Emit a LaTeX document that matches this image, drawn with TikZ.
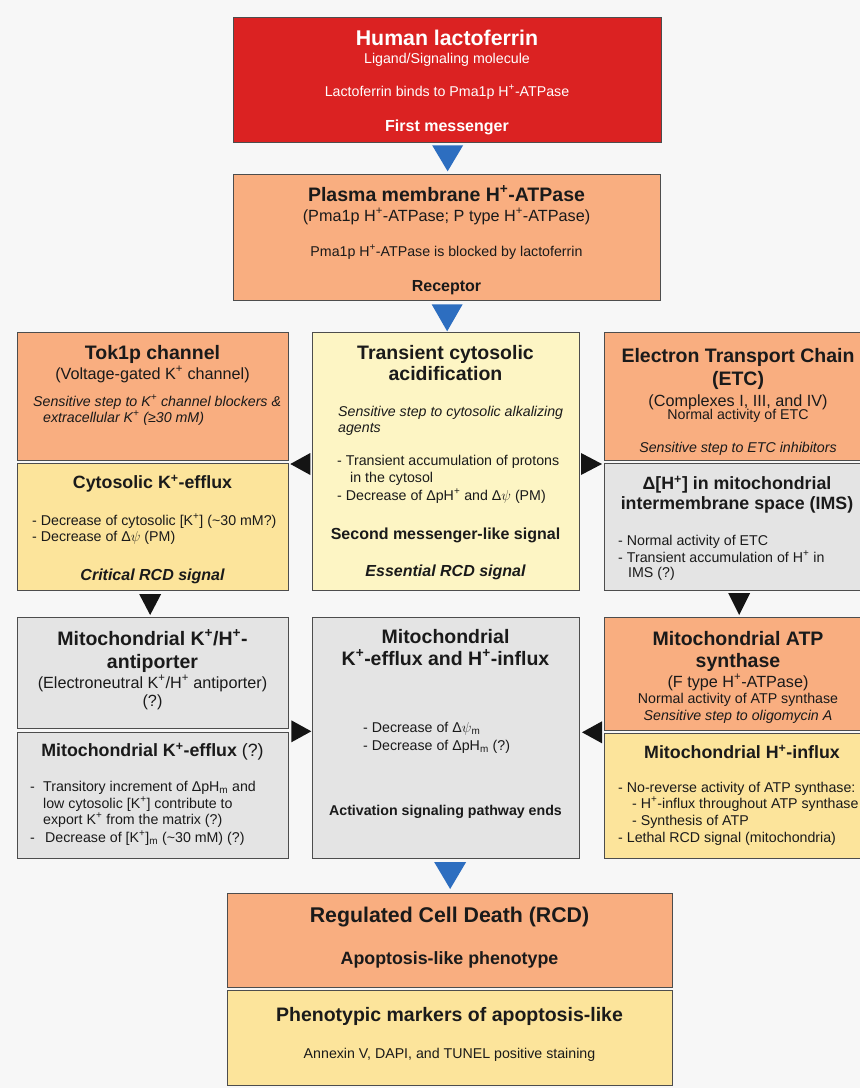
\documentclass[tikz,border=0pt]{standalone}
\usepackage{fontspec}
\setmainfont{Liberation Sans}
\usepackage{tikz}
\usetikzlibrary{calc}
\usepackage{xcolor}
\definecolor{bgcol}{HTML}{F7F7F7}
\definecolor{edgecol}{HTML}{4D4D4D}
\definecolor{txtcol}{HTML}{1A1A1A}
\definecolor{redcol}{HTML}{DB2222}
\definecolor{salmoncol}{HTML}{F9AE80}
\definecolor{yellowcol}{HTML}{FCE49B}
\definecolor{palecol}{HTML}{FDF5C4}
\definecolor{graycol}{HTML}{E4E4E4}
\definecolor{bluecol}{HTML}{2D6EC0}
\tikzstyle{box}=[draw=edgecol,line width=1.3pt,anchor=north west,inner sep=0pt]
\tikzstyle{txt}=[inner sep=0pt,anchor=base,text=txtcol]
\tikzstyle{big}=[txt,font=\fontsize{21.3}{24}\selectfont\bfseries]
\tikzstyle{ttl}=[txt,font=\fontsize{19.5}{22}\selectfont\bfseries]
\tikzstyle{sub}=[txt,font=\fontsize{17.8}{20}\selectfont\bfseries]
\tikzstyle{paren}=[txt,font=\fontsize{16.2}{18}\selectfont]
\tikzstyle{lbl}=[txt,font=\fontsize{16}{18}\selectfont\bfseries]
\tikzstyle{body}=[txt,font=\fontsize{14.2}{16}\selectfont]
\tikzstyle{item}=[body,anchor=base west]
\tikzstyle{bluetri}=[fill=bluecol]
\tikzstyle{blacktri}=[fill=black!92]

\begin{document}
\begin{tikzpicture}[x=1pt,y=-1pt]
  \useasboundingbox (0,0) rectangle (860,1088);
  \clip (0,0) rectangle (860,1088);
  \fill[bgcol] (0,0) rectangle (860,1088);

  % boxes
  \node[box,fill=redcol,minimum width=428,minimum height=125] (lacto) at (233,17) {};
  \node[box,fill=salmoncol,minimum width=427,minimum height=126] (pma) at (233,174) {};
  \node[box,fill=salmoncol,minimum width=271,minimum height=128] (tok) at (17,332) {};
  \node[box,fill=yellowcol,minimum width=271,minimum height=127] (kefflux) at (17,463) {};
  \node[box,fill=palecol,minimum width=267,minimum height=258] (acid) at (312,332) {};
  \node[box,fill=salmoncol,minimum width=271,minimum height=128] (etc) at (604,332) {};
  \node[box,fill=graycol,minimum width=271,minimum height=127] (ims) at (604,463) {};
  \node[box,fill=graycol,minimum width=271,minimum height=111] (anti) at (17,617) {};
  \node[box,fill=graycol,minimum width=271,minimum height=126] (mkefflux) at (17,732) {};
  \node[box,fill=graycol,minimum width=267,minimum height=241] (mito) at (312,617) {};
  \node[box,fill=salmoncol,minimum width=271,minimum height=113] (atp) at (604,617) {};
  \node[box,fill=yellowcol,minimum width=271,minimum height=125] (hinflux) at (604,733) {};
  \node[box,fill=salmoncol,minimum width=445,minimum height=94] (rcd) at (227,893) {};
  \node[box,fill=yellowcol,minimum width=445,minimum height=95] (markers) at (227,990) {};

  % first messenger
  \node[big,text=white] (lacto-1) at (447,45.7) {Human lactoferrin};
  \node[body,text=white] (lacto-2) at (447,63) {Ligand/Signaling molecule};
  \node[body,text=white] (lacto-3) at (447,96) {Lactoferrin binds to Pma1p H\textsuperscript{+}-ATPase};
  \node[lbl,text=white] (lacto-4) at (447,131.8) {First messenger};

  \node[ttl] (pma-1) at (446.5,201) {Plasma membrane H\textsuperscript{+}-ATPase};
  \node[paren] (pma-2) at (446.5,221) {(Pma1p H\textsuperscript{+}-ATPase; P type H\textsuperscript{+}-ATPase)};
  \node[body] (pma-3) at (446.5,256) {Pma1p H\textsuperscript{+}-ATPase is blocked by lactoferrin};
  \node[lbl] (pma-4) at (446.5,291) {Receptor};

  % left column
  \node[ttl] (tok-1) at (152.5,359) {Tok1p channel};
  \node[paren] (tok-2) at (152.5,379) {(Voltage-gated K\textsuperscript{+} channel)};
  \node[item] (tok-3) at (33,406) {\itshape Sensitive step to K\textsuperscript{+} channel blockers \&};
  \node[item] (tok-4) at (43,422) {\itshape extracellular K\textsuperscript{+} (≥30 mM)};

  \node[sub] (kefflux-1) at (152.5,488.5) {Cytosolic K\textsuperscript{+}-efflux};
  \node[item] (kefflux-2) at (32,525) {- Decrease of cytosolic [K\textsuperscript{+}] (\textasciitilde30 mM?)};
  \node[item] (kefflux-3) at (32,541) {- Decrease of Δ$\psi$\ (PM)};
  \node[lbl] (kefflux-4) at (152.5,580) {\itshape Critical RCD signal};

  \node[ttl] (anti-1) at (152.5,645) {Mitochondrial K\textsuperscript{+}/H\textsuperscript{+}-};
  \node[ttl] (anti-2) at (152.5,668) {antiporter};
  \node[paren] (anti-3) at (152.5,688) {(Electroneutral K\textsuperscript{+}/H\textsuperscript{+} antiporter)};
  \node[paren] (anti-4) at (152.5,706) {(?)};

  \node[sub] (mkefflux-1) at (152.5,756.5) {Mitochondrial K\textsuperscript{+}-efflux {\mdseries (?)}};
  \node[item] (mkefflux-2) at (30,791) {\makebox[13pt][l]{-}Transitory increment of ΔpH\textsubscript{m} and};
  \node[item] (mkefflux-3) at (43,808) {low cytosolic [K\textsuperscript{+}] contribute to};
  \node[item] (mkefflux-4) at (43,824) {export K\textsuperscript{+} from the matrix (?)};
  \node[item] (mkefflux-5) at (30,842) {\makebox[15pt][l]{-}Decrease of [K\textsuperscript{+}]\textsubscript{m} (\textasciitilde30 mM) (?)};

  % middle column
  \node[ttl] (acid-1) at (445.5,359) {Transient cytosolic};
  \node[ttl] (acid-2) at (445.5,380) {acidification};
  \node[item] (acid-3) at (338,416) {\itshape Sensitive step to cytosolic alkalizing};
  \node[item] (acid-4) at (338,432) {\itshape agents};
  \node[item] (acid-5) at (337,465) {- Transient accumulation of protons};
  \node[item] (acid-6) at (350,482) {in the cytosol};
  \node[item] (acid-7) at (337,500) {- Decrease of ΔpH\textsuperscript{+} and Δ$\psi$\ (PM)};
  \node[lbl] (acid-8) at (445.5,539) {Second messenger-like signal};
  \node[lbl] (acid-9) at (445.5,576) {\itshape Essential RCD signal};

  \node[ttl] (mito-1) at (445.5,643) {Mitochondrial};
  \node[ttl] (mito-2) at (445.5,665) {K\textsuperscript{+}-efflux and H\textsuperscript{+}-influx};
  \node[item] (mito-3) at (363,732) {- Decrease of Δ$\psi$\textsubscript{m}};
  \node[item] (mito-4) at (363,750) {- Decrease of ΔpH\textsubscript{m} (?)};
  \node[body] (mito-5) at (445.5,815) {\bfseries Activation signaling pathway ends};

  % right column
  \node[ttl] (etc-1) at (738,362) {Electron Transport Chain};
  \node[ttl] (etc-2) at (738,385) {(ETC)};
  \node[paren] (etc-3) at (738,406) {(Complexes I, III, and IV)};
  \node[body] (etc-4) at (738,419) {Normal activity of ETC};
  \node[body] (etc-5) at (738,452.4) {\itshape Sensitive step to ETC inhibitors};

  \node[sub] (ims-1) at (737,489.5) {Δ[H\textsuperscript{+}] in mitochondrial};
  \node[sub] (ims-2) at (737,509.5) {intermembrane space (IMS)};
  \node[item] (ims-3) at (618,545) {- Normal activity of ETC};
  \node[item] (ims-4) at (618,562) {- Transient accumulation of H\textsuperscript{+} in};
  \node[item] (ims-5) at (628,577) {IMS (?)};

  \node[ttl] (atp-1) at (738,645) {Mitochondrial ATP};
  \node[ttl] (atp-2) at (738,667) {synthase};
  \node[paren] (atp-3) at (738,687) {(F type H\textsuperscript{+}-ATPase)};
  \node[body] (atp-4) at (738,703) {Normal activity of ATP synthase};
  \node[body] (atp-5) at (738,720) {\itshape Sensitive step to oligomycin A};

  \node[sub] (hinflux-1) at (742,758.5) {Mitochondrial H\textsuperscript{+}-influx};
  \node[item] (hinflux-2) at (618,792) {- No-reverse activity of ATP synthase:};
  \node[item] (hinflux-3) at (632,808) {- H\textsuperscript{+}-influx throughout ATP synthase};
  \node[item] (hinflux-4) at (632,825) {- Synthesis of ATP};
  \node[item] (hinflux-5) at (618,842) {- Lethal RCD signal (mitochondria)};

  % outcome
  \node[big] (rcd-1) at (449.5,922.7) {Regulated Cell Death (RCD)};
  \node[sub] (rcd-2) at (449.5,964.4) {Apoptosis-like phenotype};
  \node[ttl] (markers-1) at (449.5,1021) {Phenotypic markers of apoptosis-like};
  \node[body] (markers-2) at (449.5,1058) {Annexin V, DAPI, and TUNEL positive staining};

  % arrow heads
  \fill[bluetri] ($(lacto.south)+(-15.5,2)$) -- ++(31,0) -- ($(lacto.south)+(0,28)$) -- cycle;
  \fill[bluetri] ($(pma.south)+(-15.5,3)$) -- ++(31,0) -- ($(pma.south)+(0,30)$) -- cycle;
  \fill[bluetri] ($(rcd.north)+(-16,-31)$) -- ++(32,0) -- ($(rcd.north)+(0,-4)$) -- cycle;
  \fill[blacktri] ($(kefflux.north east)+(1,1)$) -- ($(kefflux.north east)+(21,-10)$) -- ++(0,22) -- cycle;
  \fill[blacktri] ($(ims.north west)+(-2,1)$) -- ($(ims.north west)+(-23,-10)$) -- ++(0,22) -- cycle;
  \fill[blacktri] ($(anti.north)+(-3,-2)$) -- ($(anti.north)+(-14,-23)$) -- ++(22,0) -- cycle;
  \fill[blacktri] ($(atp.north)+(-1,-2)$) -- ($(atp.north)+(-12,-24)$) -- ++(22,0) -- cycle;
  \fill[blacktri] ($(anti.south east)+(22,2)$) -- ($(anti.south east)+(2,-9)$) -- ++(0,22) -- cycle;
  \fill[blacktri] ($(atp.south west)+(-22,1)$) -- ($(atp.south west)+(-2,-10)$) -- ++(0,22) -- cycle;
\end{tikzpicture}
\end{document}
